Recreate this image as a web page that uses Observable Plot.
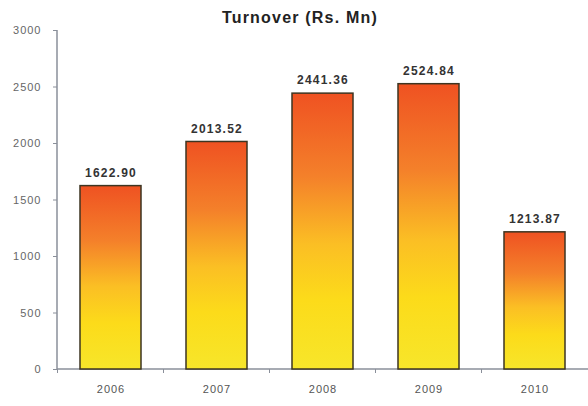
<!DOCTYPE html>
<html>
<head>
<meta charset="utf-8">
<script src="https://cdn.jsdelivr.net/npm/d3@7"></script>
<script src="https://cdn.jsdelivr.net/npm/@observablehq/plot@0.6"></script>
<style>
  html, body { margin: 0; padding: 0; background: #fff; }
  #title { font-family: "Liberation Sans", Arial, sans-serif; font-weight: bold; font-size: 16px; letter-spacing: 1.2px; color: #222; height: 24px; line-height: 24px; width: 600px; text-align: center; padding-top: 6px; box-sizing: border-box; }
  #chart svg { display: block; }
</style>
</head>
<body>
<div id="title">Turnover (Rs. Mn)</div>
<div id="chart"></div>
<script>
const years = ["2006", "2007", "2008", "2009", "2010"];
const turnover = [1622.90, 2013.52, 2441.36, 2524.84, 1213.87];
const yTicks = [0, 500, 1000, 1500, 2000, 2500, 3000];

const data = years.map((y, i) => ({year: y, value: turnover[i]}));

const axisLines = (index, scales, values, dims) => {
  const g = d3.create("svg:g");
  const defs = g.append("defs");
  const grad = defs.append("linearGradient").attr("id", "barGrad")
    .attr("x1", 0).attr("y1", 0).attr("x2", 0).attr("y2", 1);
  grad.append("stop").attr("offset", "0%").attr("stop-color", "#ef5222");
  grad.append("stop").attr("offset", "30%").attr("stop-color", "#f4802a");
  grad.append("stop").attr("offset", "55%").attr("stop-color", "#fbbf24");
  grad.append("stop").attr("offset", "75%").attr("stop-color", "#fcdb1a");
  grad.append("stop").attr("offset", "100%").attr("stop-color", "#f7e62a");
  const y0 = scales.y(0), yTop = scales.y(3000);
  const xl = dims.marginLeft, xr = dims.width - dims.marginRight;
  g.append("line").attr("x1", xl).attr("x2", xl).attr("y1", yTop).attr("y2", y0)
    .attr("stroke", "#8a8f9a").attr("stroke-width", 1.5);
  g.append("line").attr("x1", xl).attr("x2", xr).attr("y1", y0).attr("y2", y0)
    .attr("stroke", "#8a8f9a").attr("stroke-width", 1.5);
  const bw = scales.x.bandwidth ? scales.x.bandwidth() : 0;
  const step = scales.x.step ? scales.x.step() : bw;
  years.forEach((yr, i) => {
    const bx = scales.x(yr) - (step - bw) / 2;
    g.append("line").attr("x1", bx).attr("x2", bx).attr("y1", y0).attr("y2", y0 + 4)
      .attr("stroke", "#8a8f9a").attr("stroke-width", 1);
  });
  return g.node();
};

const plot = Plot.plot({
  width: 588,
  height: 382,
  marginTop: 6,
  marginLeft: 57,
  marginRight: 0,
  marginBottom: 37,
  style: {fontFamily: "Liberation Sans, Arial, sans-serif", fontSize: "11px", background: "#fff"},
  x: {domain: years, paddingInner: 0.42, paddingOuter: 0.21, align: 0.5},
  y: {domain: [0, 3000]},
  marks: [
    axisLines,
    Plot.barY(data, {x: "year", y: "value", fill: "url(#barGrad)", stroke: "#3d3522", strokeWidth: 1.5}),
    Plot.text(data, {x: "year", y: "value", text: d => d.value.toFixed(2), dy: -13,
      fontWeight: "bold", fontSize: 12, fill: "#333", style: "letter-spacing: 1.2px"}),
    Plot.axisY(yTicks, {ticks: yTicks, tickSize: 4, tickPadding: 12, stroke: "#8a8f9a", color: "#666", fontSize: 11, tickFormat: d => String(d), label: null}),
    Plot.axisX({tickSize: 0, tickPadding: 16, color: "#555", fontSize: 11, label: null})
  ]
});
plot.querySelectorAll("text").forEach(t => t.style.letterSpacing = "1px");
plot.querySelectorAll("g[aria-label='text'] text").forEach(t => t.style.letterSpacing = "1.2px");
document.getElementById("chart").appendChild(plot);
</script>
</body>
</html>
